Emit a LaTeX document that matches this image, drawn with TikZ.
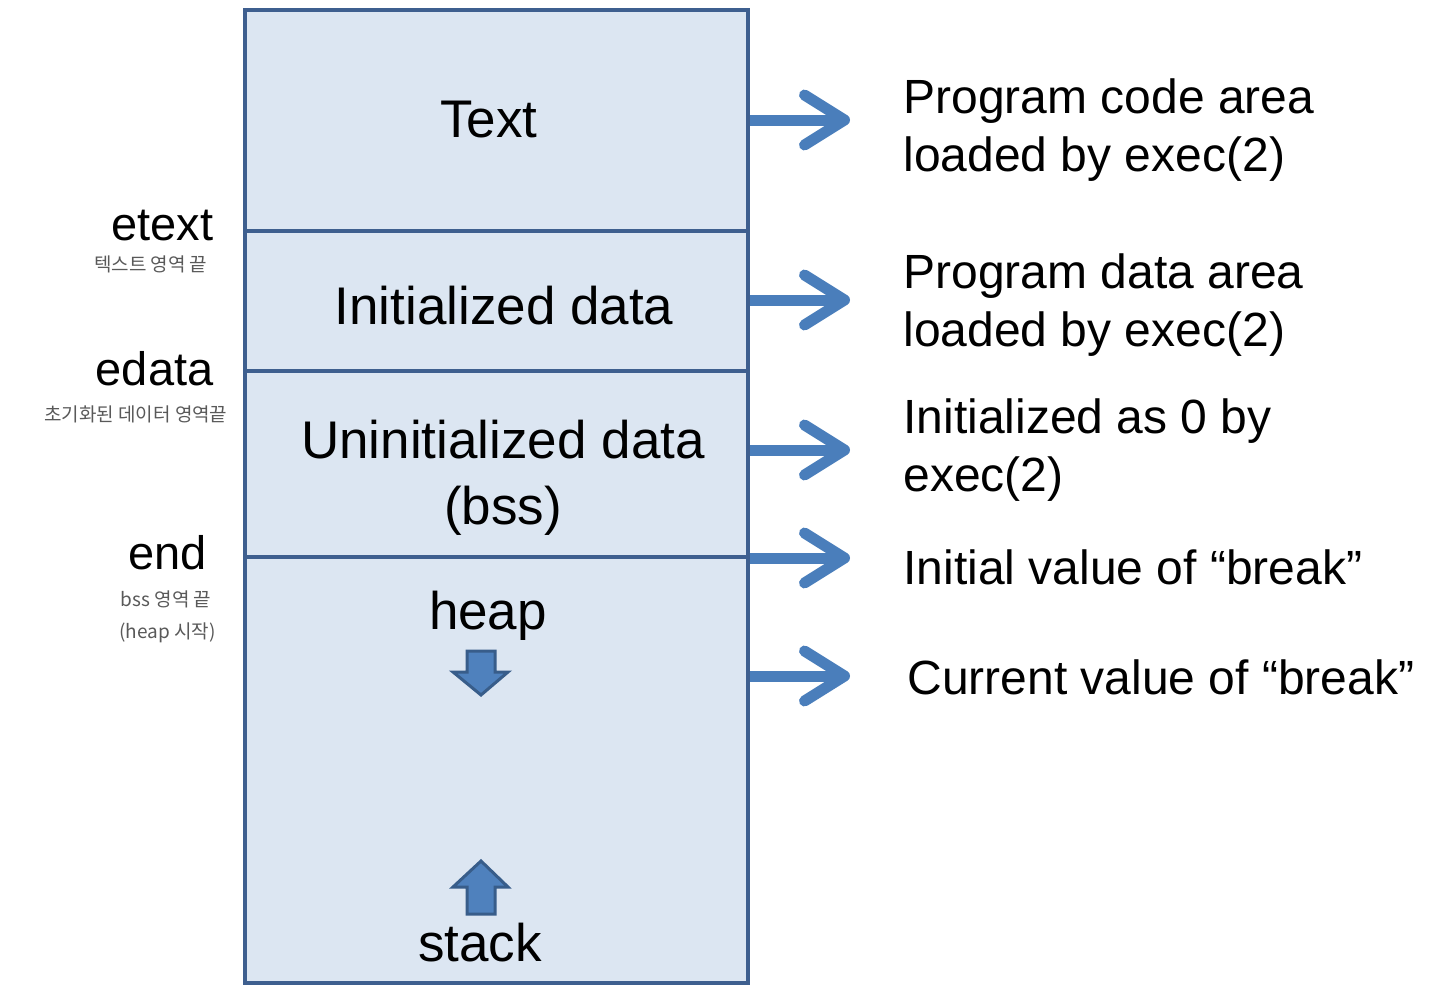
\documentclass[tikz,border=0pt]{standalone}
\usepackage{fontspec}
\setmainfont{Liberation Sans}
\newfontfamily\kor{Noto Sans CJK KR}
\usetikzlibrary{arrows.meta}
\definecolor{boxfill}{HTML}{DCE6F2}
\definecolor{boxline}{HTML}{3E5F8F}
\definecolor{arrblue}{HTML}{4A7EBB}
\definecolor{blockfill}{HTML}{4F81BD}
\definecolor{blockline}{HTML}{385D8A}
\begin{document}
\begin{tikzpicture}[x=1pt,y=-1pt,
  region/.style={draw=boxline,fill=boxfill,line width=4pt},
  boxtext/.style={font=\fontsize{53}{60}\selectfont,align=center},
  desc/.style={font=\fontsize{48}{58}\selectfont,align=left,anchor=west},
  addr/.style={font=\fontsize{47}{54}\selectfont,anchor=base east},
  note/.style={font=\kor\fontsize{19}{24}\selectfont,text=black!65,anchor=base east},
  rarrow/.style={draw=arrblue,line width=11pt,-{Straight Barb[length=40pt,width=50pt,round]}},
  block/.style={fill=blockfill,draw=blockline,line width=3pt,line join=miter}]
\useasboundingbox (0,0) rectangle (1440,998);
% regions
\draw[region] (245,10) rectangle (748,231);
\draw[region] (245,231) rectangle (748,371);
\draw[region] (245,371) rectangle (748,557);
\draw[region] (245,557) rectangle (748,983);
% texts in box
\node[boxtext] (ttext) at (489,120) {Text};
\node[boxtext] (tinit) at (504,306) {Initialized data};
\node[boxtext,font=\fontsize{53}{66}\selectfont] (tuninit) at (503,478) {Uninitialized data\\(bss)};
\node[boxtext] (theap) at (488,616) {heap};
\node[boxtext] (tstack) at (480,943) {stack};
% block arrows
\draw[block] (467,651) -- (495,651) -- (495,672) -- (508,672) -- (481,695) -- (453,672) -- (467,672) -- cycle;
\draw[block] (467,914) -- (495,914) -- (495,887) -- (508,887) -- (481,861) -- (453,887) -- (467,887) -- cycle;
% left labels
\node[addr] (etext) at (217,240) {etext};
\node[note] (netext) at (211,271) {텍스트 영역 끝};
\node[addr] (edata) at (217,385) {edata};
\node[note] (nedata) at (231,421) {초기화된 데이터 영역끝};
\node[addr] (eend) at (210,569) {end};
\node[note] (nend) at (215,606) {bss 영역 끝};
\node[note] (nheap) at (219,638) {(heap 시작)};
% arrows
\coordinate (a1s) at (750,120); \coordinate (a1e) at (850,120);
\coordinate (a2s) at (750,300); \coordinate (a2e) at (850,300);
\coordinate (a3s) at (750,450); \coordinate (a3e) at (850,450);
\coordinate (a4s) at (750,558); \coordinate (a4e) at (850,558);
\coordinate (a5s) at (750,676); \coordinate (a5e) at (850,676);
\draw[rarrow] (a1s) -- (a1e);
\draw[rarrow] (a2s) -- (a2e);
\draw[rarrow] (a3s) -- (a3e);
\draw[rarrow] (a4s) -- (a4e);
\draw[rarrow] (a5s) -- (a5e);
% descriptions
\node[desc] (d1) at (900,130) {Program code area\\loaded by exec(2)};
\node[desc] (d2) at (900,305) {Program data area\\loaded by exec(2)};
\node[desc] (d3) at (900,450) {Initialized as 0 by\\exec(2)};
\node[desc] (d4) at (900,567) {Initial value of “break”};
\node[desc] (d5) at (904,677) {Current value of “break”};
\end{tikzpicture}
\end{document}
